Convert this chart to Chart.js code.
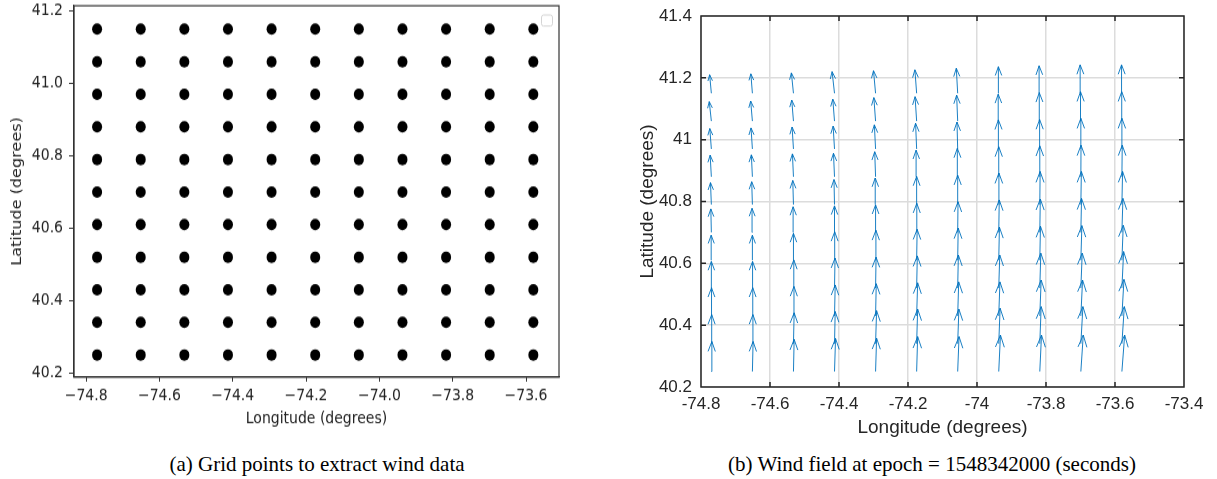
<!DOCTYPE html>
<html>
<head>
<meta charset="utf-8">
<script src="https://cdn.jsdelivr.net/npm/chart.js@4.4.0/dist/chart.umd.min.js"></script>
<style>
  html, body { margin: 0; padding: 0; background: #fff; }
  body { width: 1217px; height: 479px; position: relative; overflow: hidden; }
  #gridChart { position: absolute; left: 0; top: 0; transform-origin: 0 0; transform: scaleY(1.15); }
  #windChart { position: absolute; left: 600px; top: 0; }
  .caption { position: absolute; top: 454px; line-height: 21px; font-family: "Liberation Serif", serif;
             font-size: 21px; color: #000; white-space: nowrap; transform: translateX(-50%); }
</style>
</head>
<body>
<canvas id="gridChart" width="575" height="374"></canvas>
<canvas id="windChart" width="617" height="440"></canvas>
<div class="caption" style="left:317px">(a) Grid points to extract wind data</div>
<div class="caption" style="left:932px">(b) Wind field at epoch = 1548342000 (seconds)</div>
<script>
// grid of sample points
const lons = [-74.77, -74.651, -74.532, -74.413, -74.294, -74.175, -74.056, -73.937, -73.818, -73.699, -73.58];
const lats = [40.25, 40.34, 40.43, 40.52, 40.61, 40.70, 40.79, 40.88, 40.97, 41.06, 41.15];

// tick values
const lonTicksA = [-74.8, -74.6, -74.4, -74.2, -74.0, -73.8, -73.6];
const latTicksA = [40.2, 40.4, 40.6, 40.8, 41.0, 41.2];
const lonTicksB = [-74.8, -74.6, -74.4, -74.2, -74.0, -73.8, -73.6, -73.4];
const latTicksB = [40.2, 40.4, 40.6, 40.8, 41.0, 41.2, 41.4];

// quiver arrow components as drawn (degrees), rows south -> north, columns west -> east
const windU = [
  [0.0015, 0.002, 0.002, 0.003, 0.003, 0.003, 0.004, 0.005, 0.005, 0.007, 0.008],
  [0.001, 0.0015, 0.002, 0.002, 0.003, 0.003, 0.0035, 0.004, 0.004, 0.006, 0.007],
  [0.0005, 0.001, 0.0015, 0.002, 0.002, 0.003, 0.003, 0.0035, 0.004, 0.005, 0.006],
  [0, 0.0005, 0.001, 0.0015, 0.0015, 0.002, 0.002, 0.003, 0.003, 0.004, 0.005],
  [-0.0005, 0, 0, 0.0005, 0.001, 0.0015, 0.0015, 0.002, 0.002, 0.003, 0.004],
  [-0.0015, -0.001, -0.001, 0, 0, 0.0005, 0.001, 0.0015, 0.0015, 0.002, 0.003],
  [-0.0025, -0.002, -0.002, -0.0015, -0.001, 0, 0, 0.0005, 0.001, 0.0015, 0.002],
  [-0.0035, -0.003, -0.003, -0.003, -0.0025, -0.0015, -0.001, 0, 0, 0.0005, 0.001],
  [-0.0045, -0.004, -0.004, -0.004, -0.0035, -0.003, -0.002, -0.001, -0.0005, 0, 0],
  [-0.006, -0.005, -0.005, -0.005, -0.005, -0.0045, -0.003, -0.0015, -0.0015, -0.001, -0.0005],
  [-0.005, -0.0045, -0.006, -0.007, -0.006, -0.005, -0.004, -0.001, -0.002, -0.002, -0.001]
];
const windV = [
  [0.097, 0.097, 0.104, 0.107, 0.108, 0.113, 0.113, 0.118, 0.118, 0.118, 0.118],
  [0.094, 0.094, 0.100, 0.104, 0.107, 0.112, 0.112, 0.115, 0.120, 0.120, 0.120],
  [0.091, 0.091, 0.095, 0.100, 0.104, 0.107, 0.110, 0.110, 0.116, 0.116, 0.118],
  [0.086, 0.086, 0.091, 0.097, 0.100, 0.104, 0.107, 0.107, 0.113, 0.113, 0.118],
  [0.081, 0.081, 0.087, 0.092, 0.097, 0.100, 0.104, 0.107, 0.110, 0.112, 0.113],
  [0.076, 0.078, 0.083, 0.086, 0.089, 0.094, 0.099, 0.105, 0.108, 0.110, 0.110],
  [0.071, 0.074, 0.078, 0.081, 0.086, 0.091, 0.095, 0.102, 0.107, 0.107, 0.107],
  [0.070, 0.071, 0.074, 0.076, 0.081, 0.086, 0.092, 0.097, 0.100, 0.102, 0.102],
  [0.066, 0.068, 0.071, 0.074, 0.078, 0.083, 0.087, 0.094, 0.095, 0.099, 0.099],
  [0.063, 0.065, 0.068, 0.071, 0.076, 0.079, 0.084, 0.087, 0.092, 0.095, 0.095],
  [0.060, 0.063, 0.066, 0.070, 0.073, 0.076, 0.081, 0.086, 0.089, 0.092, 0.092]
];

const SY = 1.15; // left figure is stretched vertically in the source

const gridPoints = [];
lats.forEach(lat => lons.forEach(lon => gridPoints.push({x: lon, y: lat})));

// quiver: shaft + matlab style head, null y breaks the line
const HA = 0.33, HB = 0.33;
const arrowPath = [];
lats.forEach((lat, k) => lons.forEach((lon, c) => {
  const u = windU[k][c], v = windV[k][c];
  const tx = lon + u, ty = lat + v;
  arrowPath.push(
    {x: lon, y: lat}, {x: tx, y: ty}, {x: tx, y: null},
    {x: tx - HA * (u + HB * v), y: ty - HA * (v - HB * u)},
    {x: tx, y: ty},
    {x: tx - HA * (u - HB * v), y: ty - HA * (v + HB * u)},
    {x: tx, y: null}
  );
}));

const fmtA = v => (v < 0 ? '\u2212' : '') + Math.abs(v).toFixed(1);
const fmtB = v => String(Number(v.toFixed(1)));
const setTicks = arr => scale => { scale.ticks = arr.map(v => ({value: v})); };

const fontA = {family: 'DejaVu Sans', size: 14};
const fontB = {family: 'Liberation Sans', size: 17};

const frameA = {
  id: 'frameA',
  afterDraw(chart) {
    const {ctx, chartArea: a} = chart;
    ctx.save();
    ctx.strokeStyle = '#333';
    ctx.lineWidth = 1.2;
    ctx.strokeRect(a.left, a.top, a.right - a.left, a.bottom - a.top);
    // empty legend box
    ctx.strokeStyle = '#d4d4d4';
    ctx.lineWidth = 1;
    ctx.beginPath();
    ctx.roundRect(541.5, 15 / SY, 11, 11 / SY, 2);
    ctx.stroke();
    ctx.restore();
  }
};

const frameB = {
  id: 'frameB',
  afterDraw(chart) {
    const {ctx, chartArea: a, scales} = chart;
    ctx.save();
    ctx.strokeStyle = '#262626';
    ctx.lineWidth = 1.5;
    ctx.beginPath();
    lonTicksB.slice(1, -1).forEach(v => {
      const px = scales.x.getPixelForValue(v);
      ctx.moveTo(px, a.bottom); ctx.lineTo(px, a.bottom - 5);
      ctx.moveTo(px, a.top); ctx.lineTo(px, a.top + 5);
    });
    latTicksB.slice(1, -1).forEach(v => {
      const py = scales.y.getPixelForValue(v);
      ctx.moveTo(a.left, py); ctx.lineTo(a.left + 5, py);
      ctx.moveTo(a.right, py); ctx.lineTo(a.right - 5, py);
    });
    ctx.stroke();
    ctx.strokeRect(a.left, a.top, a.right - a.left, a.bottom - a.top);
    ctx.restore();
  }
};

new Chart(document.getElementById('gridChart'), {
  type: 'scatter',
  data: {
    datasets: [{
      data: gridPoints,
      pointRadius: 5,
      pointBackgroundColor: '#000',
      pointBorderWidth: 0
    }]
  },
  options: {
    responsive: false,
    animation: false,
    events: [],
    layout: {padding: {top: 5 / SY, right: 16, left: 0, bottom: 0}},
    plugins: {legend: {display: false}, tooltip: {enabled: false}},
    scales: {
      x: {
        type: 'linear', min: -74.833, max: -73.51,
        afterBuildTicks: setTicks(lonTicksA),
        afterFit: s => { s.height = 374 - 377 / SY; s.paddingLeft = 0; s.paddingRight = 0; },
        grid: {drawOnChartArea: false, drawTicks: true, tickLength: 4, color: '#333'},
        border: {display: true, color: '#333', width: 1.2},
        ticks: {autoSkip: false, maxRotation: 0, padding: 4, color: '#222', font: fontA, callback: v => fmtA(v)},
        title: {display: true, text: 'Longitude (degrees)', color: '#222', font: fontA, padding: {top: 0, bottom: 1.3}}
      },
      y: {
        type: 'linear', min: 40.189, max: 41.2146,
        afterBuildTicks: setTicks(latTicksA),
        afterFit: s => { s.width = 74; s.paddingTop = 0; s.paddingBottom = 0; },
        grid: {drawOnChartArea: false, drawTicks: true, tickLength: 5, color: '#333'},
        border: {display: true, color: '#333', width: 1.2},
        ticks: {autoSkip: false, padding: 6, color: '#222', font: fontA, callback: v => fmtA(v)},
        title: {display: true, text: 'Latitude (degrees)', color: '#222', font: fontA, padding: {top: 8.6, bottom: 0}}
      }
    }
  },
  plugins: [frameA]
});

new Chart(document.getElementById('windChart'), {
  type: 'scatter',
  data: {
    datasets: [{
      data: arrowPath,
      showLine: true,
      spanGaps: false,
      pointRadius: 0,
      borderColor: '#0072BD',
      borderWidth: 0.9,
      borderJoinStyle: 'round'
    }]
  },
  options: {
    responsive: false,
    animation: false,
    events: [],
    layout: {padding: {top: 16, right: 33, left: 0, bottom: 0}},
    plugins: {legend: {display: false}, tooltip: {enabled: false}},
    scales: {
      x: {
        type: 'linear', min: -74.8, max: -73.4,
        afterBuildTicks: setTicks(lonTicksB),
        afterFit: s => { s.height = 53; s.paddingLeft = 0; s.paddingRight = 0; },
        grid: {drawTicks: false, color: '#dcdcdc', lineWidth: 1.5},
        border: {display: false},
        ticks: {autoSkip: false, maxRotation: 0, padding: 6.8, color: '#262626', font: fontB, callback: v => fmtB(v)},
        title: {display: true, text: 'Longitude (degrees)', color: '#262626', font: {family: 'Liberation Sans', size: 19}, padding: {top: 0, bottom: 0.6}}
      },
      y: {
        type: 'linear', min: 40.2, max: 41.4,
        afterBuildTicks: setTicks(latTicksB),
        afterFit: s => { s.width = 101; s.paddingTop = 0; s.paddingBottom = 0; },
        grid: {drawTicks: false, color: '#dcdcdc', lineWidth: 1.5},
        border: {display: false},
        ticks: {autoSkip: false, padding: 9, color: '#262626', font: fontB, callback: v => fmtB(v)},
        title: {display: true, text: 'Latitude (degrees)', color: '#262626', font: {family: 'Liberation Sans', size: 19}, padding: {top: 36.6, bottom: 0}}
      }
    }
  },
  plugins: [frameB]
});
</script>
</body>
</html>
